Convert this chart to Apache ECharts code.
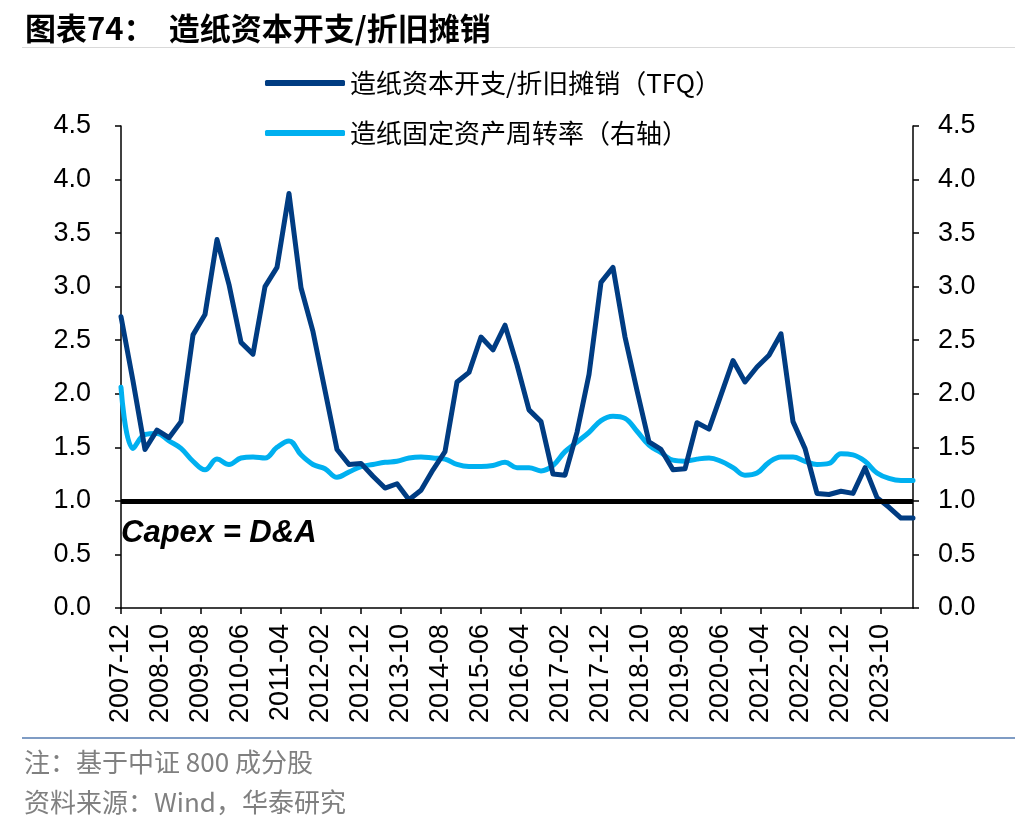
<!DOCTYPE html>
<html><head><meta charset="utf-8">
<script src="https://cdn.jsdelivr.net/npm/echarts@6/dist/echarts.min.js"></script>
<style>html,body{margin:0;padding:0;background:#fff}#c{width:1036px;height:832px}</style>
</head><body><div id="c"></div>
<script>
// Quarterly observation dates
const quarters = ['2007-12',
 '2008-03','2008-06','2008-09','2008-12','2009-03','2009-06','2009-09','2009-12',
 '2010-03','2010-06','2010-09','2010-12','2011-03','2011-06','2011-09','2011-12',
 '2012-03','2012-06','2012-09','2012-12','2013-03','2013-06','2013-09','2013-12',
 '2014-03','2014-06','2014-09','2014-12','2015-03','2015-06','2015-09','2015-12',
 '2016-03','2016-06','2016-09','2016-12','2017-03','2017-06','2017-09','2017-12',
 '2018-03','2018-06','2018-09','2018-12','2019-03','2019-06','2019-09','2019-12',
 '2020-03','2020-06','2020-09','2020-12','2021-03','2021-06','2021-09','2021-12',
 '2022-03','2022-06','2022-09','2022-12','2023-03','2023-06','2023-09','2023-12',
 '2024-03','2024-06'];
// 造纸资本开支/折旧摊销（TFQ）
const capexRatio = [2.72,2.12,1.48,1.66,1.59,1.74,2.55,2.74,3.44,3.02,
 2.48,2.37,3.00,3.18,3.87,2.99,2.58,2.03,1.48,1.34,
 1.35,1.23,1.12,1.16,1.01,1.10,1.29,1.46,2.11,2.20,
 2.53,2.41,2.64,2.27,1.85,1.74,1.25,1.24,1.64,2.18,
 3.04,3.18,2.53,2.03,1.55,1.48,1.29,1.30,1.73,1.67,
 1.99,2.31,2.11,2.25,2.36,2.56,1.74,1.49,1.07,1.06,
 1.09,1.07,1.31,1.03,0.94,0.84,0.84];
// 造纸固定资产周转率（右轴）
const turnover = [2.06,1.49,1.62,1.63,1.56,1.49,1.37,1.29,1.39,1.34,
 1.40,1.41,1.40,1.50,1.56,1.43,1.34,1.30,1.22,1.27,
 1.32,1.34,1.36,1.37,1.40,1.41,1.40,1.39,1.34,1.32,
 1.32,1.33,1.36,1.31,1.31,1.28,1.33,1.46,1.55,1.64,
 1.75,1.79,1.77,1.65,1.52,1.45,1.38,1.37,1.39,1.40,
 1.37,1.31,1.24,1.26,1.36,1.41,1.41,1.37,1.34,1.35,
 1.44,1.43,1.37,1.26,1.21,1.19,1.19];
const xTickLabels = ['2007-12','2008-10','2009-08','2010-06','2011-04','2012-02','2012-12',
 '2013-10','2014-08','2015-06','2016-04','2017-02','2017-12','2018-10','2019-08','2020-06',
 '2021-04','2022-02','2022-12','2023-10'];
const yTicks = [0,0.5,1,1.5,2,2.5,3,3.5,4,4.5];
const refLevel = 1;
const names = ['造纸资本开支/折旧摊销（TFQ）','造纸固定资产周转率（右轴）'];

// monthly category axis (date axis in months)
const months = [];
for (let y = 2007, m = 12; !(y === 2024 && m === 7); ) {
  months.push(y + '-' + String(m).padStart(2, '0'));
  m++; if (m > 12) { m = 1; y++; }
}
const tickSet = new Set(xTickLabels);
const showTick = (i, v) => tickSet.has(v);

const chart = echarts.init(document.getElementById('c'));
const labelFont = 'Liberation Sans, Arial, sans-serif';
const cjk = '"Noto Sans CJK SC", sans-serif';
function yAxisFor(pos, margin) {
  return {
    type: 'value', position: pos, min: yTicks[0], max: yTicks[yTicks.length-1], interval: 0.5,
    axisLine: {show: true, lineStyle: {color: '#000', width: 1.5}},
    axisTick: {show: true, length: 6, lineStyle: {color: '#000', width: 1.5}},
    splitLine: {show: false},
    axisLabel: {color: '#000', fontSize: 27, fontFamily: labelFont, margin: margin,
      formatter: v => v.toFixed(1)}
  };
}
chart.setOption({
  animation: false,
  backgroundColor: '#fff',
  title: {text: '图表74：  造纸资本开支/折旧摊销', left: 20, top: 8,
    textStyle: {fontSize: 31, fontWeight: 'bold', color: '#000', fontFamily: cjk}},
  legend: {
    orient: 'vertical', left: 260, top: 65, itemGap: 24,
    itemWidth: 80, itemHeight: 6, icon: 'roundRect',
    textStyle: {fontSize: 26, color: '#000', fontFamily: cjk},
    data: names
  },
  grid: {left: 121, right: 123, top: 126, bottom: 224, containLabel: false},
  xAxis: {
    type: 'category', data: months, boundaryGap: false,
    axisLine: {lineStyle: {color: '#000', width: 1.5}},
    axisTick: {show: true, interval: showTick, length: 6, lineStyle: {color: '#000', width: 1.5}},
    axisLabel: {interval: showTick, rotate: 90, color: '#000', fontSize: 27, fontFamily: labelFont, margin: 16}
  },
  yAxis: [yAxisFor('left', 30), yAxisFor('right', 25)],
  graphic: [
    {type: 'rect', shape: {x: 22, y: 47, width: 993, height: 1}, style: {fill: '#d9d9d9'}},
    {type: 'rect', shape: {x: 22, y: 737, width: 993, height: 2}, style: {fill: '#7f9cc4'}},
    {type: 'text', left: 121, top: 518, style: {text: 'Capex = D&A', fontSize: 31, fontWeight: 'bold',
      fontStyle: 'italic', fontFamily: labelFont, fill: '#000'}},
    {type: 'text', left: 24, top: 749, style: {text: '注：基于中证 800 成分股', fontSize: 26,
      fontFamily: cjk, fill: '#808080'}},
    {type: 'text', left: 24, top: 789, style: {text: '资料来源：Wind，华泰研究', fontSize: 26,
      fontFamily: cjk, fill: '#808080'}}
  ],
  series: [
    {name: names[0], type: 'line', yAxisIndex: 0, showSymbol: false, symbol: 'none',
      data: quarters.map((q, i) => [q, capexRatio[i]]),
      lineStyle: {color: '#003C82', width: 5, join: 'round', cap: 'round'}, itemStyle: {color: '#003C82'},
      markLine: {silent: true, symbol: 'none', label: {show: false},
        lineStyle: {color: '#000', width: 5, type: 'solid'}, data: [{yAxis: refLevel}]},
      z: 3},
    {name: names[1], type: 'line', yAxisIndex: 1, showSymbol: false, symbol: 'none', smooth: 0.4,
      data: quarters.map((q, i) => [q, turnover[i]]),
      lineStyle: {color: '#00B0F0', width: 5, cap: 'round'}, itemStyle: {color: '#00B0F0'}, z: 2}
  ]
});
</script></body></html>
